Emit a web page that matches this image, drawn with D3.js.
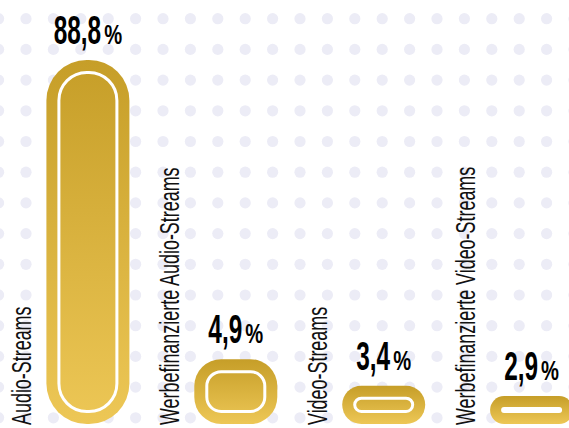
<!DOCTYPE html>
<html>
<head>
<meta charset="utf-8">
<script src="https://cdn.jsdelivr.net/npm/d3@7"></script>
<style>
  html, body { margin: 0; padding: 0; background: #ffffff; overflow: hidden; }
  svg { display: block; }
</style>
</head>
<body>
<svg id="chart" width="569" height="428"></svg>
<script>
// Streaming categories and their share (in %)
const categories = [
  "Audio-Streams",
  "Werbefinanzierte Audio-Streams",
  "Video-Streams",
  "Werbefinanzierte Video-Streams"
];
const shares = [88.8, 4.9, 3.4, 2.9];

const W = 569, H = 428;
const baseline = 424;

const svg = d3.select("#chart");
const defs = svg.append("defs");

// German number format: decimal comma
const de = d3.formatLocale({ decimal: ",", thousands: ".", grouping: [3], currency: ["", " €"] });
const fmt = de.format(".1f");

// Gold gradient for the bars
const grad = defs.append("linearGradient")
  .attr("id", "gold")
  .attr("x1", 0).attr("y1", 0).attr("x2", 0).attr("y2", 1);
grad.append("stop").attr("offset", "0%").attr("stop-color", "#C69E28");
grad.append("stop").attr("offset", "100%").attr("stop-color", "#EDC756");

// Background dot grid
const dotCols = d3.range(0, 22).map(i => -1.4 + i * 27.4);
const dotRows = d3.range(0, 14).map(j => 18.7 + j * 30.7);
const dots = [];
dotRows.forEach(cy => dotCols.forEach(cx => dots.push([cx, cy])));
svg.append("g")
  .attr("fill", "#ECECF6")
  .selectAll("circle")
  .data(dots)
  .join("circle")
  .attr("cx", d => d[0])
  .attr("cy", d => d[1])
  .attr("r", 5.6);

// Scales
const x = d3.scaleBand()
  .domain(categories)
  .range([-3.6, 588])
  .paddingInner(0)
  .paddingOuter(0);

const labelOffset = 50;   // space inside each band reserved for the rotated label
const barWidth = 83;

// Symmetric-log scale keeps the small shares visible next to the dominant one
const y = d3.scaleSymlog()
  .constant(2.65)
  .domain([0, 88.8])
  .range([484.7, 60]);

// Condensed type: use a narrow face if present, otherwise squeeze the regular one
function measure(family, weight, size, str) {
  const t = svg.append("text")
    .attr("font-family", family)
    .attr("font-weight", weight)
    .attr("font-size", size)
    .text(str);
  const w = t.node().getComputedTextLength();
  t.remove();
  return w;
}
const probe = "Werbefinanzierte Audio-Streams 0123456789";
const wReg = measure("'Liberation Sans'", 400, 20, probe);
const wNar = measure("'Liberation Sans Narrow', 'Liberation Sans'", 400, 20, probe);
const narrowRatio = wNar / wReg;
const FONT = "'Liberation Sans Narrow', 'Liberation Sans', Arial, sans-serif";
const sxLabel = 0.64 / narrowRatio;
const sxNum = 0.61 / narrowRatio;
const sxPct = 0.72 / narrowRatio;

const bars = svg.append("g");

categories.forEach((cat, i) => {
  const v = shares[i];
  const left = x(cat) + labelOffset;
  const top = y(v);
  const h = baseline - top;
  const r = Math.min(h / 2, 24 + 0.045 * h);

  // Outer bar
  bars.append("rect")
    .attr("x", left)
    .attr("y", top)
    .attr("width", barWidth)
    .attr("height", h)
    .attr("rx", r)
    .attr("ry", r)
    .attr("fill", "url(#gold)");

  // Inner white outline
  const inset = 12.5;
  const ih = Math.max(h - 2 * inset, 0.01);
  const iw = barWidth - 2 * inset;
  const ir = Math.min(ih / 2, Math.max(r - inset, 0));
  bars.append("rect")
    .attr("x", left + inset)
    .attr("y", top + inset)
    .attr("width", iw)
    .attr("height", ih)
    .attr("rx", ir)
    .attr("ry", ir)
    .attr("fill", "none")
    .attr("stroke", "#ffffff")
    .attr("stroke-width", 3);

  // Rotated category label, reading bottom to top
  svg.append("text")
    .attr("transform", `translate(${left - 15},${baseline + 1}) rotate(-90) scale(${sxLabel},1)`)
    .attr("font-family", FONT)
    .attr("font-size", 28)
    .attr("fill", "#111111")
    .text(cat);

  // Value label above the bar
  const g = svg.append("g").attr("fill", "#000000").attr("font-family", FONT).attr("font-weight", 700);
  const num = g.append("text").attr("font-size", 40).text(fmt(v));
  const pct = g.append("text").attr("font-size", 28).text("%");
  const w1 = num.node().getComputedTextLength() * sxNum;
  const w2 = pct.node().getComputedTextLength() * sxPct;
  const gap = 3;
  const total = w1 + gap + w2;
  const cx = left + barWidth / 2;
  const by = top - 16;
  num.attr("transform", `translate(${cx - total / 2},${by}) scale(${sxNum},1)`);
  pct.attr("transform", `translate(${cx - total / 2 + w1 + gap},${by}) scale(${sxPct},1)`);
});
</script>
</body>
</html>
